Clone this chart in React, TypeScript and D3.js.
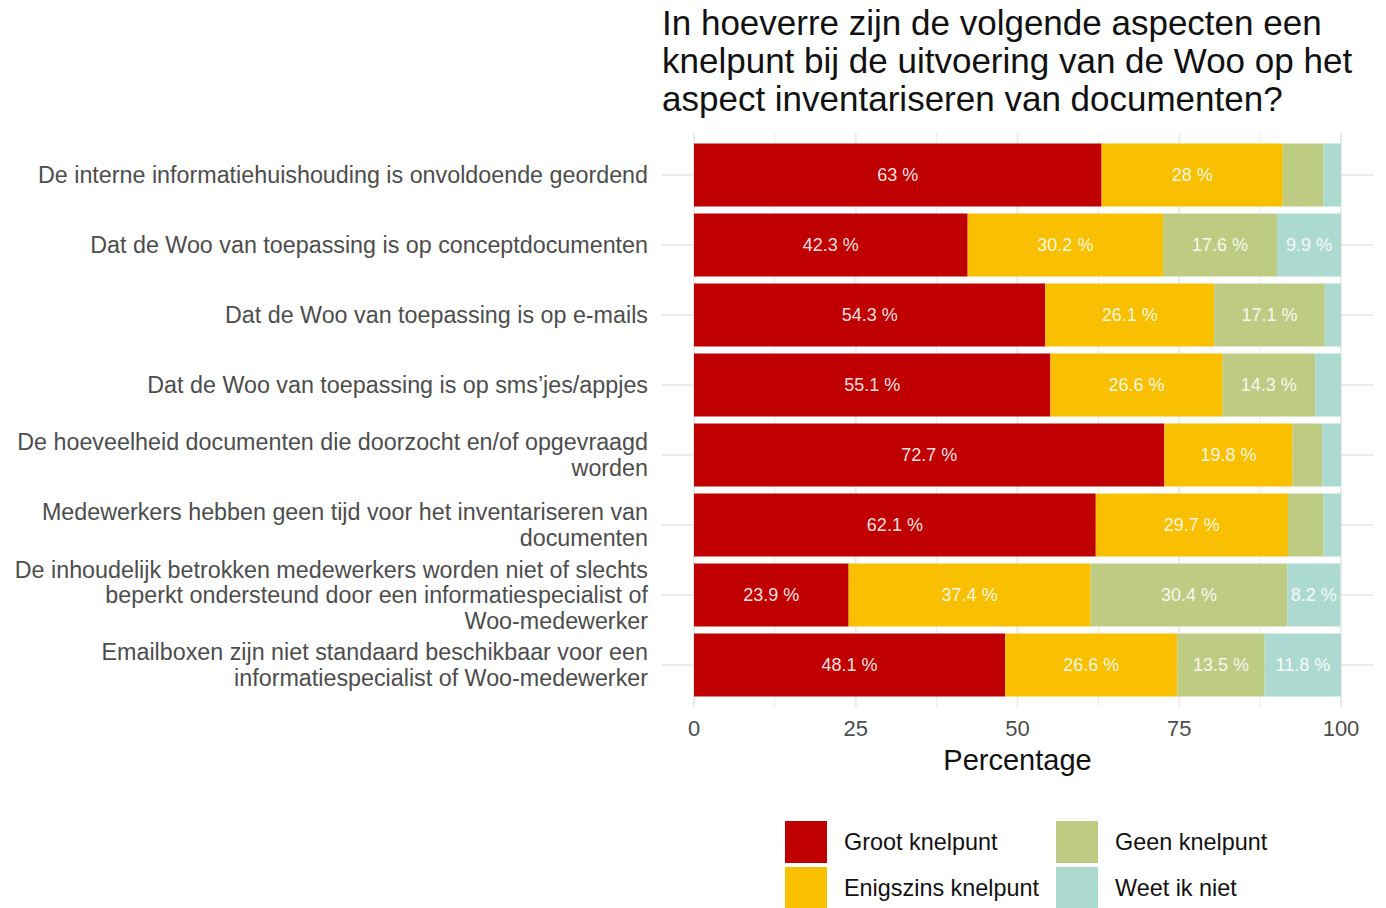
import React from "react";
import * as d3 from "d3";

const categories = [
  ["De interne informatiehuishouding is onvoldoende geordend"],
  ["Dat de Woo van toepassing is op conceptdocumenten"],
  ["Dat de Woo van toepassing is op e-mails"],
  ["Dat de Woo van toepassing is op sms\u2019jes/appjes"],
  ["De hoeveelheid documenten die doorzocht en/of opgevraagd", "worden"],
  ["Medewerkers hebben geen tijd voor het inventariseren van", "documenten"],
  [
    "De inhoudelijk betrokken medewerkers worden niet of slechts",
    "beperkt ondersteund door een informatiespecialist of",
    "Woo-medewerker",
  ],
  ["Emailboxen zijn niet standaard beschikbaar voor een", "informatiespecialist of Woo-medewerker"],
];

const seriesNames = ["Groot knelpunt", "Enigszins knelpunt", "Geen knelpunt", "Weet ik niet"];
const seriesColors = ["#C00000", "#F8C000", "#BECB83", "#ADDAD0"];

const groot = [63, 42.3, 54.3, 55.1, 72.7, 62.1, 23.9, 48.1];
const enigszins = [28, 30.2, 26.1, 26.6, 19.8, 29.7, 37.4, 26.6];
const geen = [6.3, 17.6, 17.1, 14.3, 4.6, 5.5, 30.4, 13.5];
const weetNiet = [2.7, 9.9, 2.5, 4.0, 2.9, 2.7, 8.2, 11.8];

const xTicks = [0, 25, 50, 75, 100];
const titleLines = [
  "In hoeverre zijn de volgende aspecten een",
  "knelpunt bij de uitvoering van de Woo op het",
  "aspect inventariseren van documenten?",
];

const W = 1386;
const H = 908;
const FONT = "'Liberation Sans', Arial, sans-serif";

export default function App() {
  const x = d3.scaleLinear().domain([0, 100]).range([694, 1341]);
  const panelLeft = x(-5);
  const panelRight = x(105);
  const panelTop = 133;
  const panelBottom = 707;
  const y = d3
    .scaleBand<number>()
    .domain(d3.range(categories.length))
    .range([panelTop, panelBottom])
    .paddingInner(0.1)
    .paddingOuter(0.15);

  const values = [groot, enigszins, geen, weetNiet];
  const rows = categories.map((_, i) => {
    const obj: Record<string, number> = {};
    seriesNames.forEach((s, j) => (obj[s] = values[j][i]));
    return obj;
  });
  const stacked = d3.stack<Record<string, number>>().keys(seriesNames)(rows);

  const minor = d3.range(12.5, 100, 25);

  return (
    <svg width={W} height={H} style={{ display: "block", position: "absolute", left: 0, top: 0 }} fontFamily={FONT}>
      <rect width={W} height={H} fill="#fff" />
      {titleLines.map((t, i) => (
        <text key={i} x={662} y={35 + i * 38} fontSize={35} fill="#111">
          {t}
        </text>
      ))}
      {/* grid */}
      {minor.map((v) => (
        <line key={"m" + v} x1={x(v)} x2={x(v)} y1={panelTop} y2={panelBottom} stroke="#EBEBEB" strokeWidth={1} />
      ))}
      {xTicks.map((v) => (
        <line key={"M" + v} x1={x(v)} x2={x(v)} y1={panelTop} y2={panelBottom} stroke="#EBEBEB" strokeWidth={2} />
      ))}
      {categories.map((_, i) => {
        const cy = y(i)! + y.bandwidth() / 2;
        return <line key={"h" + i} x1={panelLeft} x2={panelRight} y1={cy} y2={cy} stroke="#EBEBEB" strokeWidth={2} />;
      })}
      {/* bars */}
      {stacked.map((layer, j) => (
        <g key={layer.key} fill={seriesColors[j]}>
          {layer.map((d, i) => (
            <rect key={i} x={x(d[0])} y={y(i)!} width={x(d[1]) - x(d[0])} height={y.bandwidth()} />
          ))}
        </g>
      ))}
      {stacked.map((layer, j) => (
        <g key={"l" + layer.key}>
          {layer.map((d, i) => {
            const v = values[j][i];
            if (v < 8) return null;
            return (
              <text
                key={i}
                x={x((d[0] + d[1]) / 2)}
                y={y(i)! + y.bandwidth() / 2}
                dy="0.35em"
                textAnchor="middle"
                fontSize={18}
                fill="#fff"
                fillOpacity={0.9}
              >
                {`${v} %`}
              </text>
            );
          })}
        </g>
      ))}
      {/* y labels */}
      {categories.map((lines, i) => {
        const cy = y(i)! + y.bandwidth() / 2;
        const lh = 25.5;
        const start = cy - ((lines.length - 1) * lh) / 2;
        return (
          <text key={"y" + i} textAnchor="end" fontSize={23.3} fill="#4D4D4D">
            {lines.map((l, k) => (
              <tspan key={k} x={648} y={start + k * lh} dy="0.35em">
                {l}
              </tspan>
            ))}
          </text>
        );
      })}
      {/* x axis */}
      {xTicks.map((v) => (
        <text key={"xt" + v} x={x(v)} y={736} textAnchor="middle" fontSize={22} fill="#4D4D4D">
          {v}
        </text>
      ))}
      <text x={x(50)} y={770} textAnchor="middle" fontSize={29} fill="#111">
        Percentage
      </text>
      {/* legend */}
      {seriesNames.map((s, j) => {
        const col = Math.floor(j / 2);
        const row = j % 2;
        const lx = 785 + col * 271;
        const ly = 821 + row * 46;
        return (
          <g key={"lg" + s}>
            <rect x={lx} y={ly} width={42} height={42} fill={seriesColors[j]} />
            <text x={lx + 59} y={ly + 21} dy="0.35em" fontSize={23.4} fill="#111">
              {s}
            </text>
          </g>
        );
      })}
    </svg>
  );
}
